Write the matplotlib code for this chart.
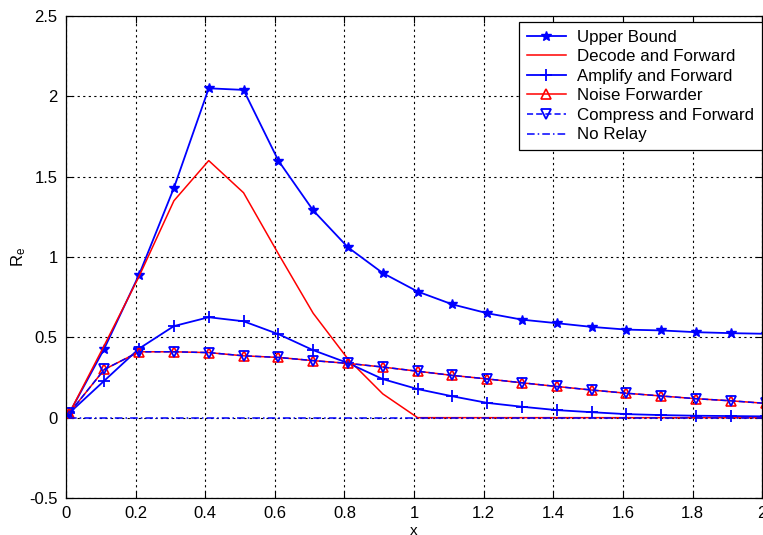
import numpy as np
import matplotlib
matplotlib.use('Agg')
import matplotlib.pyplot as plt

plt.rcParams['font.family'] = ['Liberation Sans', 'DejaVu Sans']
plt.rcParams['mathtext.default'] = 'regular'

# x samples (0.01 : 0.1 : 2.01)
x = [0.01, 0.11, 0.21, 0.31, 0.41, 0.51, 0.61, 0.71, 0.81, 0.91, 1.01,
     1.11, 1.21, 1.31, 1.41, 1.51, 1.61, 1.71, 1.81, 1.91, 2.01]

upper_bound = [0.03, 0.43, 0.89, 1.43, 2.05, 2.04, 1.60, 1.29, 1.06, 0.90, 0.785,
               0.705, 0.65, 0.61, 0.588, 0.565, 0.548, 0.543, 0.532, 0.526, 0.522]
decode_fwd = [0.03, 0.45, 0.88, 1.35, 1.60, 1.40, 1.02, 0.65, 0.365, 0.148, 0.0,
              0.0, 0.0, 0.0, 0.0, 0.0, 0.0, 0.0, 0.0, 0.0, 0.0]
amplify_fwd = [0.03, 0.23, 0.43, 0.57, 0.625, 0.60, 0.52, 0.42, 0.34, 0.24, 0.178,
               0.133, 0.092, 0.068, 0.047, 0.034, 0.022, 0.016, 0.012, 0.01, 0.008]
noise_fwd = [0.03, 0.30, 0.41, 0.41, 0.405, 0.385, 0.375, 0.355, 0.338, 0.315, 0.289,
             0.263, 0.241, 0.217, 0.194, 0.172, 0.152, 0.135, 0.118, 0.105, 0.089]
compress_fwd = noise_fwd
no_relay = [0.0] * len(x)

fig = plt.figure(figsize=(7.63, 5.35), dpi=100)
ax = fig.add_axes([66 / 763, 1 - 498 / 535, 1 - 66 / 763 - 0.001, (498 - 16) / 535])

ax.plot(x, upper_bound, '-', color='blue', marker='*', ms=7, lw=1.3, label='Upper Bound')
ax.plot(x, decode_fwd, '-', color='red', lw=1.1, label='Decode and Forward')
ax.plot(x, amplify_fwd, '-', color='blue', marker='+', ms=9, mew=1.3, lw=1.3,
        label='Amplify and Forward')
ax.plot(x, noise_fwd, '-', color='red', marker='^', ms=7, mfc='none', mew=1.2, lw=1.1,
        label='Noise Forwarder')
ax.plot(x, compress_fwd, '--', color='blue', marker='v', ms=7, mfc='none', mew=1.3, lw=1.1,
        dashes=(4, 2), label='Compress and Forward')
ax.plot(x, no_relay, '-.', color='blue', lw=1.1, dashes=(5, 2, 1, 2), label='No Relay')

ax.set_xlim(0, 2)
ax.set_ylim(-0.5, 2.5)
ax.set_xticks(np.arange(0, 2.01, 0.2))
ax.set_xticklabels(['0', '0.2', '0.4', '0.6', '0.8', '1', '1.2', '1.4', '1.6', '1.8', '2'])
ax.set_yticks(np.arange(-0.5, 2.51, 0.5))
ax.set_yticklabels(['-0.5', '0', '0.5', '1', '1.5', '2', '2.5'])
ax.tick_params(direction='in', length=5, labelsize=12, top=True, right=True, pad=6)
ax.grid(True, color='black', linestyle=(0, (2, 3)), linewidth=0.8)
for s in ax.spines.values():
    s.set_linewidth(0.9)

ax.set_xlabel('x', fontsize=11, labelpad=2)
ax.set_ylabel('R$_e$', fontsize=12, labelpad=1)

leg = ax.legend(loc='upper right', bbox_to_anchor=(762 / 763, 1 - 22 / 535),
                bbox_transform=fig.transFigure, borderaxespad=0, fontsize=12.2,
                fancybox=False, edgecolor='black', framealpha=1, handlelength=2.3,
                handletextpad=0.7, labelspacing=0.27, borderpad=0.45)
leg.get_frame().set_linewidth(0.9)

fig.savefig('out.png', dpi=100)
